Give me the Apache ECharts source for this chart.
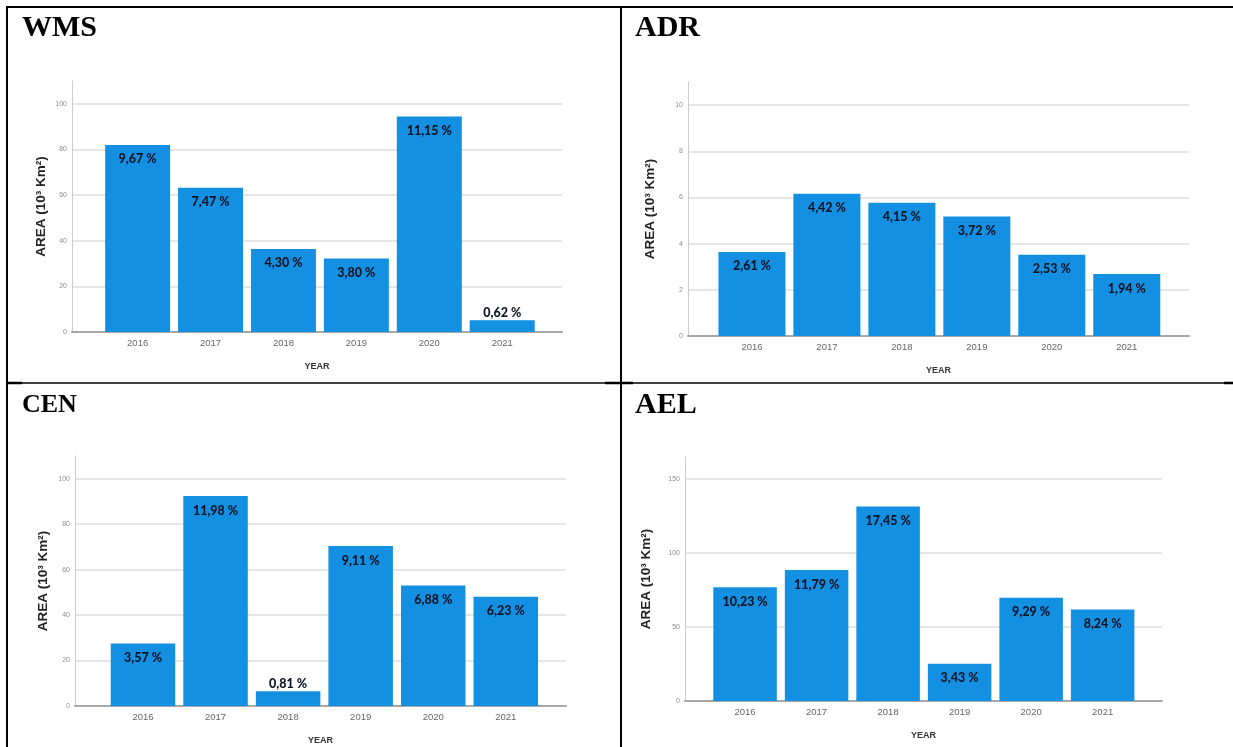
<!DOCTYPE html>
<html><head><meta charset="utf-8">
<script src="https://cdn.jsdelivr.net/npm/echarts@6/dist/echarts.min.js"></script>
<style>html,body{margin:0;padding:0;background:#fff}#c{width:1233px;height:747px}</style>
</head><body><div id="c"></div>
<script>
// ---- data ----
const years = ['2016', '2017', '2018', '2019', '2020', '2021'];
const yearIdx = [0, 1, 2, 3, 4, 5];

const wmsArea = [82, 63.2, 36.4, 32.2, 94.4, 5.2];
const wmsPct  = ['9,67 %', '7,47 %', '4,30 %', '3,80 %', '11,15 %', '0,62 %'];
const wmsTicks = [0, 20, 40, 60, 80, 100];

const adrArea = [3.64, 6.16, 5.77, 5.17, 3.52, 2.68];
const adrPct  = ['2,61 %', '4,42 %', '4,15 %', '3,72 %', '2,53 %', '1,94 %'];
const adrTicks = [0, 2, 4, 6, 8, 10];

const cenArea = [27.5, 92.4, 6.5, 70.4, 53, 48.1];
const cenPct  = ['3,57 %', '11,98 %', '0,81 %', '9,11 %', '6,88 %', '6,23 %'];
const cenTicks = [0, 20, 40, 60, 80, 100];

const aelArea = [77, 88.6, 131.5, 25.2, 69.9, 61.8];
const aelPct  = ['10,23 %', '11,79 %', '17,45 %', '3,43 %', '9,29 %', '8,24 %'];
const aelTicks = [0, 50, 100, 150];

const yName = 'AREA (10\u00B3 Km\u00B2)';
const xName = 'YEAR';

// ---- layout ----
const panels = [
  {title: 'WMS', area: wmsArea, pct: wmsPct, ticks: wmsTicks, step: 20, max: 110,
   grid: {left: 72, top: 81, width: 490, height: 251}, xMin: -0.9, xMax: 5.82, barWidth: 65,
   nameGap: 24, tLeft: 22, tTop: 13, tWeight: 'bold', tSize: 30},
  {title: 'ADR', area: adrArea, pct: adrPct, ticks: adrTicks, step: 2, max: 11,
   grid: {left: 688, top: 82, width: 501, height: 254}, xMin: -0.853, xMax: 5.83, barWidth: 67,
   nameGap: 31, tLeft: 635, tTop: 13, tWeight: 'bold', tSize: 30},
  {title: 'CEN', area: cenArea, pct: cenPct, ticks: cenTicks, step: 20, max: 110,
   grid: {left: 75, top: 456, width: 491, height: 250}, xMin: -0.937, xMax: 5.83, barWidth: 64.5,
   nameGap: 25, tLeft: 22, tTop: 392, tWeight: 'bold', tSize: 26},
  {title: 'AEL', area: aelArea, pct: aelPct, ticks: aelTicks, step: 50, max: 165,
   grid: {left: 685, top: 457, width: 477, height: 244}, xMin: -0.84, xMax: 5.83, barWidth: 63.5,
   nameGap: 32, tLeft: 635, tTop: 390, tWeight: 'bold', tSize: 30}
];

const chart = echarts.init(document.getElementById('c'), null, {renderer: 'canvas'});

const option = {
  backgroundColor: '#ffffff',
  animation: false,
  title: panels.map(p => ({
    text: p.title, left: p.tLeft, top: p.tTop, padding: 0,
    textStyle: {fontFamily: "'Liberation Serif', 'Times New Roman', serif", fontWeight: p.tWeight,
      fontSize: p.tSize, color: '#000'}
  })),
  grid: panels.map(p => Object.assign({containLabel: false}, p.grid)),
  xAxis: panels.map((p, i) => ({
    gridIndex: i, type: 'value', min: p.xMin, max: p.xMax,
    axisLine: {show: true, onZero: false, lineStyle: {color: '#a8a8a8', width: 2}},
    axisTick: {show: false}, splitLine: {show: false},
    axisLabel: {customValues: yearIdx, formatter: v => years[Math.round(v)] || '',
      color: '#666', fontSize: 9.5, margin: 6, fontFamily: "'Liberation Sans', Arial, sans-serif"},
    name: xName, nameLocation: 'middle', nameGap: 30,
    nameTextStyle: {fontWeight: 'bold', fontSize: 9, color: '#333', fontFamily: "'Liberation Sans', Arial, sans-serif"}
  })),
  yAxis: panels.map((p, i) => ({
    gridIndex: i, type: 'value', min: 0, max: p.max, interval: p.step,
    axisLine: {show: true, onZero: false, lineStyle: {color: '#cccccc', width: 1}},
    axisTick: {show: false},
    splitLine: {show: true, showMinLine: false, showMaxLine: false, lineStyle: {color: '#dcdcdc', width: 1.5}},
    axisLabel: {customValues: p.ticks, color: '#8c8c8c', fontSize: 7, margin: 5,
      fontFamily: "'Liberation Sans', Arial, sans-serif"},
    name: yName, nameLocation: 'middle', nameGap: p.nameGap, nameRotate: 90,
    nameTextStyle: {fontWeight: 'bold', fontSize: 13.5, color: '#222', fontFamily: "'Liberation Sans', Arial, sans-serif"}
  })),
  series: panels.map((p, i) => ({
    type: 'bar', xAxisIndex: i, yAxisIndex: i, barWidth: p.barWidth,
    itemStyle: {color: '#1490e3'},
    label: {show: true, formatter: q => p.pct[q.dataIndex], color: '#0b1526', fontSize: 12.5, fontWeight: 900,
      fontFamily: "Lato, Roboto, sans-serif"},
    data: p.area.map((v, k) => ({
      value: [yearIdx[k], v],
      label: (v / p.max < 0.1) ? {position: 'top', distance: 1} : {position: 'insideTop', distance: 8}
    }))
  })),
  graphic: [
    {type: 'line', shape: {x1: 6, y1: 7, x2: 1233, y2: 7}, style: {stroke: '#000', lineWidth: 2}},
    {type: 'line', shape: {x1: 7, y1: 6, x2: 7, y2: 747}, style: {stroke: '#000', lineWidth: 2}},
    {type: 'line', shape: {x1: 621, y1: 6, x2: 621, y2: 747}, style: {stroke: '#000', lineWidth: 2}},
    {type: 'line', shape: {x1: 7, y1: 383, x2: 1233, y2: 383}, style: {stroke: '#000', lineWidth: 1.5}},
    {type: 'line', shape: {x1: 7, y1: 383, x2: 22, y2: 383}, style: {stroke: '#000', lineWidth: 2.5}},
    {type: 'line', shape: {x1: 605, y1: 383, x2: 633, y2: 383}, style: {stroke: '#000', lineWidth: 2.5}},
    {type: 'line', shape: {x1: 1224, y1: 383, x2: 1233, y2: 383}, style: {stroke: '#000', lineWidth: 2.5}}
  ]
};
chart.setOption(option);
</script>
</body></html>
